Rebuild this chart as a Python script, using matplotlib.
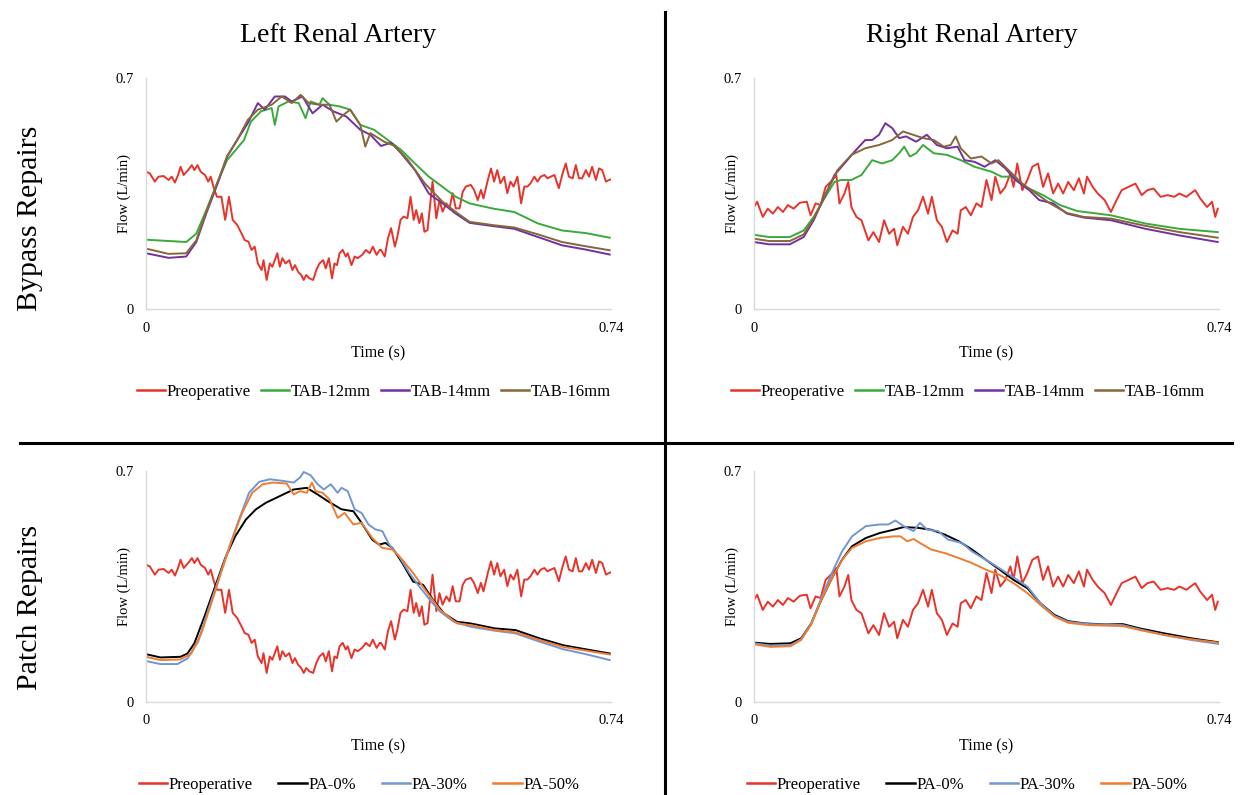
import numpy as np
import matplotlib
matplotlib.use("Agg")
import matplotlib.pyplot as plt
from matplotlib.lines import Line2D

plt.rcParams['font.family'] = ['Liberation Serif', 'DejaVu Serif']

# ---------------- data: time in s, flow in L/min ----------------
# Preoperative inflow, left renal artery
pre_left_t = [0.000, 0.006, 0.014, 0.020, 0.028, 0.036, 0.041, 0.046, 0.051, 0.055, 0.060, 0.067, 0.073,
              0.077, 0.082, 0.087, 0.094, 0.099, 0.103, 0.108, 0.113, 0.120, 0.126, 0.132, 0.138, 0.145,
              0.152, 0.157, 0.163, 0.168, 0.173, 0.178, 0.184, 0.187, 0.192, 0.197, 0.201, 0.205, 0.209,
              0.213, 0.217, 0.222, 0.228, 0.233, 0.237, 0.242, 0.247, 0.251, 0.255, 0.260, 0.266, 0.271,
              0.276, 0.282, 0.286, 0.291, 0.296, 0.300, 0.304, 0.308, 0.313, 0.318, 0.321, 0.327, 0.332,
              0.337, 0.344, 0.350, 0.356, 0.361, 0.367, 0.372, 0.374, 0.380, 0.385, 0.390, 0.396, 0.400,
              0.405, 0.410, 0.416, 0.421, 0.426, 0.430, 0.435, 0.439, 0.443, 0.448, 0.453, 0.456, 0.462,
              0.467, 0.472, 0.478, 0.483, 0.488, 0.493, 0.499, 0.504, 0.509, 0.517, 0.522, 0.528, 0.533,
              0.537, 0.544, 0.549, 0.554, 0.559, 0.564, 0.570, 0.575, 0.580, 0.585, 0.591, 0.597, 0.602,
              0.607, 0.612, 0.618, 0.623, 0.628, 0.634, 0.639, 0.644, 0.650, 0.657, 0.663, 0.668, 0.673,
              0.679, 0.684, 0.689, 0.694, 0.700, 0.705, 0.710, 0.716, 0.721, 0.726, 0.732, 0.737, 0.740]
pre_left_q = [0.416, 0.411, 0.386, 0.401, 0.403, 0.391, 0.401, 0.383, 0.406, 0.431, 0.406, 0.421, 0.436,
              0.421, 0.436, 0.416, 0.406, 0.386, 0.401, 0.366, 0.340, 0.340, 0.270, 0.340, 0.270, 0.255,
              0.229, 0.209, 0.204, 0.179, 0.189, 0.138, 0.118, 0.148, 0.088, 0.138, 0.128, 0.148, 0.169,
              0.128, 0.154, 0.138, 0.148, 0.118, 0.133, 0.113, 0.103, 0.088, 0.103, 0.093, 0.088, 0.118,
              0.138, 0.148, 0.123, 0.154, 0.093, 0.138, 0.133, 0.169, 0.179, 0.159, 0.169, 0.133, 0.159,
              0.154, 0.164, 0.179, 0.169, 0.189, 0.164, 0.179, 0.179, 0.159, 0.214, 0.245, 0.189, 0.219,
              0.270, 0.280, 0.275, 0.340, 0.270, 0.300, 0.260, 0.290, 0.234, 0.239, 0.330, 0.386, 0.275,
              0.330, 0.295, 0.320, 0.305, 0.351, 0.305, 0.305, 0.355, 0.371, 0.376, 0.361, 0.330, 0.361,
              0.335, 0.391, 0.426, 0.386, 0.421, 0.381, 0.401, 0.351, 0.386, 0.371, 0.401, 0.320, 0.371,
              0.371, 0.381, 0.401, 0.386, 0.401, 0.406, 0.396, 0.401, 0.406, 0.366, 0.411, 0.441, 0.401,
              0.396, 0.436, 0.396, 0.396, 0.421, 0.401, 0.431, 0.391, 0.426, 0.421, 0.386, 0.391, 0.393]

# Preoperative inflow, right renal artery
pre_right_t = [0.000, 0.005, 0.014, 0.022, 0.030, 0.038, 0.046, 0.054, 0.063, 0.073, 0.084, 0.090, 0.098,
               0.106, 0.114, 0.125, 0.131, 0.136, 0.144, 0.150, 0.155, 0.163, 0.171, 0.182, 0.190, 0.199,
               0.207, 0.215, 0.223, 0.228, 0.237, 0.245, 0.253, 0.261, 0.269, 0.277, 0.283, 0.291, 0.299,
               0.307, 0.316, 0.324, 0.329, 0.337, 0.345, 0.354, 0.362, 0.370, 0.378, 0.384, 0.392, 0.400,
               0.408, 0.413, 0.419, 0.427, 0.435, 0.443, 0.452, 0.460, 0.468, 0.476, 0.484, 0.492, 0.500,
               0.509, 0.517, 0.525, 0.530, 0.539, 0.547, 0.558, 0.568, 0.577, 0.585, 0.596, 0.607, 0.617,
               0.626, 0.636, 0.647, 0.658, 0.669, 0.677, 0.688, 0.702, 0.710, 0.721, 0.729, 0.734, 0.738]
pre_right_q = [0.309, 0.325, 0.279, 0.304, 0.289, 0.309, 0.294, 0.315, 0.304, 0.322, 0.325, 0.284, 0.320,
               0.315, 0.370, 0.391, 0.406, 0.320, 0.350, 0.385, 0.309, 0.279, 0.269, 0.208, 0.233, 0.203,
               0.269, 0.228, 0.243, 0.193, 0.249, 0.228, 0.279, 0.299, 0.340, 0.289, 0.340, 0.269, 0.249,
               0.203, 0.238, 0.228, 0.299, 0.309, 0.284, 0.320, 0.309, 0.391, 0.330, 0.401, 0.350, 0.370,
               0.411, 0.370, 0.441, 0.360, 0.391, 0.431, 0.441, 0.370, 0.411, 0.350, 0.380, 0.350, 0.385,
               0.360, 0.396, 0.350, 0.401, 0.370, 0.350, 0.330, 0.294, 0.330, 0.360, 0.370, 0.380, 0.345,
               0.360, 0.365, 0.340, 0.345, 0.340, 0.350, 0.340, 0.360, 0.335, 0.309, 0.325, 0.279, 0.304]

# Bypass repairs, left renal artery
tab12_left_t = [0.000, 0.064, 0.080, 0.096, 0.113, 0.129, 0.145, 0.156, 0.167, 0.183, 0.200, 0.205, 0.211,
                0.227, 0.243, 0.254, 0.262, 0.276, 0.281, 0.292, 0.308, 0.325, 0.341, 0.363, 0.385, 0.406,
                0.428, 0.450, 0.472, 0.493, 0.515, 0.553, 0.586, 0.624, 0.662, 0.700, 0.738]
tab12_left_q = [0.210, 0.203, 0.228, 0.300, 0.380, 0.451, 0.487, 0.512, 0.568, 0.599, 0.609, 0.558, 0.614,
                0.629, 0.624, 0.578, 0.629, 0.619, 0.639, 0.619, 0.614, 0.604, 0.558, 0.543, 0.512, 0.482,
                0.441, 0.401, 0.370, 0.340, 0.320, 0.304, 0.294, 0.259, 0.238, 0.230, 0.216]
tab14_left_t = [0.000, 0.036, 0.064, 0.080, 0.096, 0.113, 0.129, 0.145, 0.162, 0.178, 0.189, 0.205, 0.221,
                0.232, 0.249, 0.265, 0.281, 0.298, 0.319, 0.341, 0.357, 0.374, 0.390, 0.406, 0.428, 0.450,
                0.472, 0.493, 0.515, 0.553, 0.586, 0.624, 0.662, 0.700, 0.738]
tab14_left_q = [0.169, 0.155, 0.159, 0.203, 0.290, 0.375, 0.462, 0.512, 0.563, 0.624, 0.604, 0.644, 0.644,
                0.629, 0.644, 0.593, 0.619, 0.599, 0.583, 0.543, 0.528, 0.494, 0.504, 0.472, 0.421, 0.350,
                0.320, 0.289, 0.261, 0.251, 0.243, 0.218, 0.193, 0.180, 0.165]
tab16_left_t = [0.000, 0.036, 0.064, 0.080, 0.096, 0.113, 0.129, 0.145, 0.162, 0.178, 0.200, 0.216, 0.232,
                0.246, 0.259, 0.276, 0.292, 0.303, 0.314, 0.325, 0.341, 0.349, 0.357, 0.379, 0.396, 0.417,
                0.444, 0.472, 0.493, 0.515, 0.553, 0.586, 0.624, 0.662, 0.700, 0.738]
tab16_left_q = [0.183, 0.167, 0.169, 0.208, 0.295, 0.380, 0.462, 0.512, 0.573, 0.604, 0.619, 0.644, 0.624,
                0.649, 0.624, 0.619, 0.619, 0.568, 0.588, 0.604, 0.558, 0.492, 0.533, 0.507, 0.494, 0.451,
                0.380, 0.325, 0.294, 0.264, 0.254, 0.247, 0.226, 0.203, 0.190, 0.178]

# Bypass repairs, right renal artery
tab12_right_t = [0.000, 0.024, 0.057, 0.079, 0.095, 0.112, 0.128, 0.139, 0.155, 0.171, 0.188, 0.204, 0.220,
                 0.231, 0.239, 0.248, 0.258, 0.269, 0.286, 0.307, 0.329, 0.351, 0.378, 0.394, 0.411, 0.432,
                 0.460, 0.487, 0.514, 0.568, 0.623, 0.677, 0.738]
tab12_right_q = [0.225, 0.218, 0.218, 0.238, 0.279, 0.335, 0.385, 0.391, 0.391, 0.406, 0.451, 0.441, 0.451,
                 0.472, 0.492, 0.462, 0.472, 0.497, 0.472, 0.467, 0.451, 0.431, 0.416, 0.401, 0.401, 0.370,
                 0.345, 0.315, 0.297, 0.284, 0.259, 0.243, 0.233]
tab14_right_t = [0.000, 0.024, 0.057, 0.079, 0.095, 0.112, 0.128, 0.144, 0.160, 0.177, 0.188, 0.199, 0.209,
                 0.220, 0.231, 0.242, 0.258, 0.275, 0.291, 0.307, 0.324, 0.335, 0.351, 0.367, 0.384, 0.400,
                 0.416, 0.438, 0.454, 0.476, 0.498, 0.525, 0.568, 0.623, 0.677, 0.738]
tab14_right_q = [0.203, 0.196, 0.196, 0.218, 0.269, 0.340, 0.406, 0.441, 0.477, 0.512, 0.512, 0.528, 0.563,
                 0.548, 0.518, 0.523, 0.507, 0.528, 0.497, 0.487, 0.492, 0.451, 0.446, 0.431, 0.451, 0.426,
                 0.391, 0.360, 0.330, 0.320, 0.289, 0.277, 0.269, 0.243, 0.223, 0.203]
tab16_right_t = [0.000, 0.024, 0.057, 0.079, 0.095, 0.112, 0.133, 0.155, 0.177, 0.199, 0.220, 0.237, 0.253,
                 0.269, 0.286, 0.302, 0.313, 0.321, 0.329, 0.345, 0.362, 0.378, 0.389, 0.405, 0.427, 0.449,
                 0.471, 0.498, 0.525, 0.568, 0.623, 0.677, 0.738]
tab16_right_q = [0.213, 0.206, 0.206, 0.226, 0.274, 0.340, 0.421, 0.467, 0.487, 0.497, 0.512, 0.538, 0.528,
                 0.518, 0.512, 0.492, 0.497, 0.523, 0.487, 0.456, 0.462, 0.441, 0.451, 0.421, 0.380, 0.350,
                 0.320, 0.291, 0.279, 0.274, 0.252, 0.233, 0.216]

# Patch repairs, left renal artery
pa0_left_t = [0.000, 0.023, 0.055, 0.066, 0.077, 0.093, 0.110, 0.126, 0.142, 0.159, 0.175, 0.191, 0.213,
              0.235, 0.256, 0.273, 0.289, 0.311, 0.330, 0.343, 0.360, 0.371, 0.381, 0.392, 0.408, 0.425,
              0.441, 0.457, 0.474, 0.495, 0.517, 0.555, 0.588, 0.626, 0.664, 0.702, 0.738]
pa0_left_q = [0.145, 0.135, 0.137, 0.147, 0.178, 0.259, 0.350, 0.436, 0.502, 0.553, 0.584, 0.604, 0.624,
              0.644, 0.649, 0.629, 0.609, 0.584, 0.578, 0.543, 0.492, 0.477, 0.482, 0.467, 0.421, 0.365,
              0.355, 0.309, 0.269, 0.243, 0.238, 0.223, 0.218, 0.193, 0.172, 0.159, 0.147]
pa30_left_t = [0.000, 0.023, 0.050, 0.066, 0.083, 0.099, 0.115, 0.131, 0.148, 0.164, 0.180, 0.197, 0.218,
               0.235, 0.245, 0.251, 0.262, 0.273, 0.283, 0.294, 0.305, 0.311, 0.321, 0.332, 0.343, 0.354,
               0.365, 0.376, 0.387, 0.403, 0.419, 0.435, 0.452, 0.468, 0.490, 0.517, 0.555, 0.588, 0.626,
               0.664, 0.702, 0.738]
pa30_left_q = [0.124, 0.115, 0.115, 0.132, 0.183, 0.279, 0.370, 0.462, 0.553, 0.634, 0.667, 0.675, 0.670,
               0.665, 0.680, 0.697, 0.687, 0.660, 0.644, 0.660, 0.634, 0.649, 0.639, 0.584, 0.573, 0.538,
               0.523, 0.518, 0.477, 0.441, 0.391, 0.350, 0.309, 0.274, 0.243, 0.228, 0.216, 0.208, 0.183,
               0.160, 0.144, 0.127]
pa50_left_t = [0.000, 0.023, 0.055, 0.072, 0.088, 0.104, 0.121, 0.137, 0.153, 0.169, 0.186, 0.202, 0.224,
               0.235, 0.245, 0.256, 0.264, 0.270, 0.281, 0.292, 0.305, 0.316, 0.330, 0.343, 0.360, 0.376,
               0.392, 0.408, 0.425, 0.446, 0.468, 0.495, 0.517, 0.555, 0.588, 0.626, 0.664, 0.702, 0.738]
pa50_left_q = [0.137, 0.127, 0.129, 0.147, 0.208, 0.299, 0.401, 0.492, 0.573, 0.634, 0.660, 0.665, 0.662,
               0.629, 0.639, 0.634, 0.665, 0.639, 0.634, 0.614, 0.558, 0.573, 0.538, 0.543, 0.497, 0.467,
               0.462, 0.431, 0.391, 0.335, 0.279, 0.238, 0.233, 0.218, 0.211, 0.188, 0.167, 0.155, 0.144]

# Patch repairs, right renal artery
pa0_right_t = [0.000, 0.026, 0.058, 0.075, 0.091, 0.107, 0.124, 0.140, 0.156, 0.178, 0.200, 0.222, 0.238,
               0.260, 0.282, 0.304, 0.326, 0.347, 0.369, 0.391, 0.413, 0.435, 0.456, 0.478, 0.500, 0.527,
               0.560, 0.587, 0.614, 0.653, 0.696, 0.739]
pa0_right_q = [0.180, 0.176, 0.178, 0.193, 0.238, 0.309, 0.375, 0.431, 0.472, 0.497, 0.512, 0.522, 0.530,
               0.528, 0.522, 0.507, 0.487, 0.462, 0.431, 0.401, 0.370, 0.345, 0.299, 0.264, 0.245, 0.238,
               0.235, 0.236, 0.223, 0.208, 0.193, 0.181]
pa30_right_t = [0.000, 0.026, 0.058, 0.075, 0.091, 0.107, 0.124, 0.140, 0.156, 0.178, 0.200, 0.214, 0.225,
                0.238, 0.254, 0.264, 0.276, 0.293, 0.309, 0.331, 0.347, 0.369, 0.386, 0.407, 0.435, 0.456,
                0.478, 0.500, 0.533, 0.587, 0.614, 0.653, 0.696, 0.739]
pa30_right_q = [0.178, 0.171, 0.172, 0.190, 0.238, 0.314, 0.391, 0.456, 0.502, 0.533, 0.538, 0.538, 0.550,
                0.533, 0.518, 0.543, 0.522, 0.518, 0.492, 0.482, 0.456, 0.431, 0.411, 0.385, 0.350, 0.299,
                0.261, 0.243, 0.236, 0.233, 0.220, 0.203, 0.188, 0.176]
pa50_right_t = [0.000, 0.026, 0.058, 0.075, 0.091, 0.107, 0.124, 0.140, 0.156, 0.178, 0.200, 0.222, 0.233,
                0.244, 0.254, 0.264, 0.282, 0.304, 0.326, 0.347, 0.369, 0.391, 0.413, 0.435, 0.456, 0.478,
                0.500, 0.533, 0.587, 0.614, 0.653, 0.696, 0.739]
pa50_right_q = [0.175, 0.167, 0.169, 0.188, 0.235, 0.309, 0.375, 0.431, 0.467, 0.487, 0.497, 0.502, 0.502,
                0.487, 0.494, 0.482, 0.462, 0.451, 0.436, 0.421, 0.401, 0.385, 0.360, 0.330, 0.294, 0.259,
                0.240, 0.233, 0.230, 0.218, 0.203, 0.190, 0.180]

column_titles = ["Left Renal Artery", "Right Renal Artery"]
row_titles = ["Bypass Repairs", "Patch Repairs"]
bypass_labels = ["Preoperative", "TAB-12mm", "TAB-14mm", "TAB-16mm"]
patch_labels = ["Preoperative", "PA-0%", "PA-30%", "PA-50%"]
x_ticks = [0, 0.74]
y_ticks = [0, 0.7]

RED = "#e8332b"
bypass_colors = [RED, "#3aaa3c", "#7330a0", "#86673a"]
patch_colors = [RED, "#000000", "#7196d2", "#ee7d32"]

W, H = 1244, 795
fig = plt.figure(figsize=(W / 100, H / 100), dpi=100)
fig.patch.set_facecolor("white")


def panel(left_px, top_px, series, labels, colors, legend_xy, colspace):
    w_px, h_px = 465, 231
    ax = fig.add_axes([left_px / W, 1 - (top_px + h_px) / H, w_px / W, h_px / H])
    for (t, q), lab, col in zip(series, labels, colors):
        ax.plot(t, q, color=col, lw=1.4, label=lab, solid_joinstyle="round")
    ax.set_xlim(0, 0.74)
    ax.set_ylim(0, 0.7)
    ax.set_xticks(x_ticks)
    ax.set_xticklabels(["0", "0.74"])
    ax.set_yticks(y_ticks)
    ax.set_yticklabels(["0", "0.7"])
    ax.tick_params(length=0, labelsize=10.5, pad=9)
    for s in ("top", "right"):
        ax.spines[s].set_visible(False)
    for s in ("left", "bottom"):
        ax.spines[s].set_color("#d9d9d9")
        ax.spines[s].set_linewidth(1.0)
    ax.set_xlabel("Time (s)", fontsize=11.5, labelpad=8)
    ax.set_ylabel("Flow (L/min)", fontsize=10.5)
    ax.yaxis.set_label_coords(-0.033, 0.5)
    ax.patch.set_alpha(0)
    handles = [Line2D([], [], color=c, lw=1.8) for c in colors]
    fig.legend(handles, labels, loc="center", ncol=4, frameon=False,
               bbox_to_anchor=(legend_xy[0] / W, 1 - legend_xy[1] / H),
               fontsize=12, handlelength=1.7, handletextpad=0.1, columnspacing=colspace,
               borderpad=0, borderaxespad=0)
    return ax


panel(146, 78,
      [(pre_left_t, pre_left_q), (tab12_left_t, tab12_left_q),
       (tab14_left_t, tab14_left_q), (tab16_left_t, tab16_left_q)],
      bypass_labels, bypass_colors, (374, 392), 0.6)
panel(754, 78,
      [(pre_right_t, pre_right_q), (tab12_right_t, tab12_right_q),
       (tab14_right_t, tab14_right_q), (tab16_right_t, tab16_right_q)],
      bypass_labels, bypass_colors, (968, 392), 0.6)
panel(146, 471,
      [(pre_left_t, pre_left_q), (pa0_left_t, pa0_left_q),
       (pa30_left_t, pa30_left_q), (pa50_left_t, pa50_left_q)],
      patch_labels, patch_colors, (359, 785), 1.54)
panel(754, 471,
      [(pre_right_t, pre_right_q), (pa0_right_t, pa0_right_q),
       (pa30_right_t, pa30_right_q), (pa50_right_t, pa50_right_q)],
      patch_labels, patch_colors, (967, 785), 1.54)

# column and row headings
fig.text(338 / W, 1 - 35 / H, column_titles[0], ha="center", va="center", fontsize=20)
fig.text(972 / W, 1 - 35 / H, column_titles[1], ha="center", va="center", fontsize=20)
fig.text(30 / W, 1 - 218 / H, row_titles[0], ha="center", va="center", rotation=90, fontsize=21.5)
fig.text(30 / W, 1 - 607 / H, row_titles[1], ha="center", va="center", rotation=90, fontsize=21.5)

# quadrant dividers
fig.add_artist(Line2D([20 / W, 1232 / W], [1 - 443 / H, 1 - 443 / H], color="black", lw=2.2))
fig.add_artist(Line2D([665 / W, 665 / W], [1 - 12 / H, 0], color="black", lw=2.2))

fig.savefig("out.png", dpi=100, facecolor="white")
